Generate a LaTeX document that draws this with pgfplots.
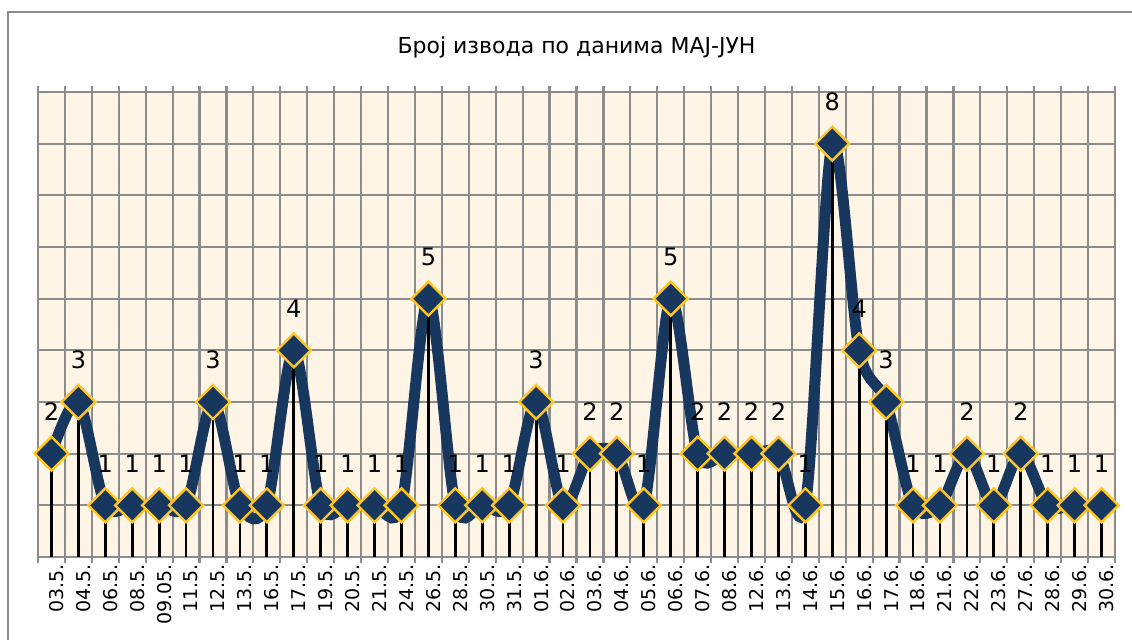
\documentclass[border=0pt]{standalone}
\usepackage{fontspec}
\setmainfont{DejaVu Sans}
\usepackage{pgfplots}
\pgfplotsset{compat=1.18}
\definecolor{cNavy}{HTML}{17375E}
\definecolor{cGold}{HTML}{FFC425}
\definecolor{cCream}{HTML}{FFF5E6}
\definecolor{cGrid}{HTML}{8C8C8C}

\begin{document}
\begin{tikzpicture}
\useasboundingbox (0,0) rectangle (566pt,320pt);
\fill[white] (0,0) rectangle (566pt,320pt);
\draw[cGrid, line width=1.1pt] (4pt,314pt) rectangle (640pt,-30pt);
\begin{axis}[
    at={(19pt,41.5pt)}, anchor=south west,
    scale only axis, width=538.5pt, height=232.5pt,
    xmin=-0.5, xmax=39.5, ymin=0, ymax=9,
    xtick={0,...,39},
    xticklabels={03.5.,04.5.,06.5.,08.5.,09.05.,11.5.,12.5.,13.5.,16.5.,17.5.,
                 19.5.,20.5.,21.5.,24.5.,26.5.,28.5.,30.5.,31.5.,01.6.,02.6.,
                 03.6.,04.6.,05.6.,06.6.,07.6.,08.6.,12.6.,13.6.,14.6.,15.6.,
                 16.6.,17.6.,18.6.,21.6.,22.6.,23.6.,27.6.,28.6.,29.6.,30.6.},
    minor xtick={-0.5,0.5,...,39.5},
    ytick={0,...,9}, yticklabels={},
    xminorgrids, ymajorgrids,
    grid style={cGrid, line width=1.1pt},
    minor grid style={cGrid, line width=1.1pt},
    axis line style={cGrid, line width=1.1pt},
    major tick length=0pt, minor tick length=3pt, tick align=outside,
    minor tick style={cGrid, line width=1.1pt},
    xticklabel style={rotate=90, anchor=east, font=\fontsize{9.5}{11}\selectfont, yshift=-2.5pt},
    axis background/.style={fill=cCream},
    title={Број извода по данима МАЈ-ЈУН},
    title style={at={(0.5,1)}, anchor=center, yshift=16.5pt, font=\fontsize{11}{13}\selectfont},
    /pgf/number format/assume math mode=true,
    clip=false,
  ]
  \addplot[cNavy, line width=5.5pt, smooth, tension=0.5,
           mark=square*, mark size=6pt,
           mark options={rotate=45, fill=cNavy, draw=cGold, line width=1.2pt},
           nodes near coords,
           every node near coord/.style={anchor=center, yshift=21pt, black, font=\fontsize{12}{14}\selectfont}]
    coordinates {
      (0,2) (1,3) (2,1) (3,1) (4,1) (5,1) (6,3) (7,1) (8,1) (9,4)
      (10,1) (11,1) (12,1) (13,1) (14,5) (15,1) (16,1) (17,1) (18,3) (19,1)
      (20,2) (21,2) (22,1) (23,5) (24,2) (25,2) (26,2) (27,2) (28,1) (29,8)
      (30,4) (31,3) (32,1) (33,1) (34,2) (35,1) (36,2) (37,1) (38,1) (39,1)
    };
  \addplot[black, line width=1.4pt, ycomb, mark=none]
    coordinates {
      (0,2) (1,3) (2,1) (3,1) (4,1) (5,1) (6,3) (7,1) (8,1) (9,4)
      (10,1) (11,1) (12,1) (13,1) (14,5) (15,1) (16,1) (17,1) (18,3) (19,1)
      (20,2) (21,2) (22,1) (23,5) (24,2) (25,2) (26,2) (27,2) (28,1) (29,8)
      (30,4) (31,3) (32,1) (33,1) (34,2) (35,1) (36,2) (37,1) (38,1) (39,1)
    };
\end{axis}
\end{tikzpicture}
\end{document}
